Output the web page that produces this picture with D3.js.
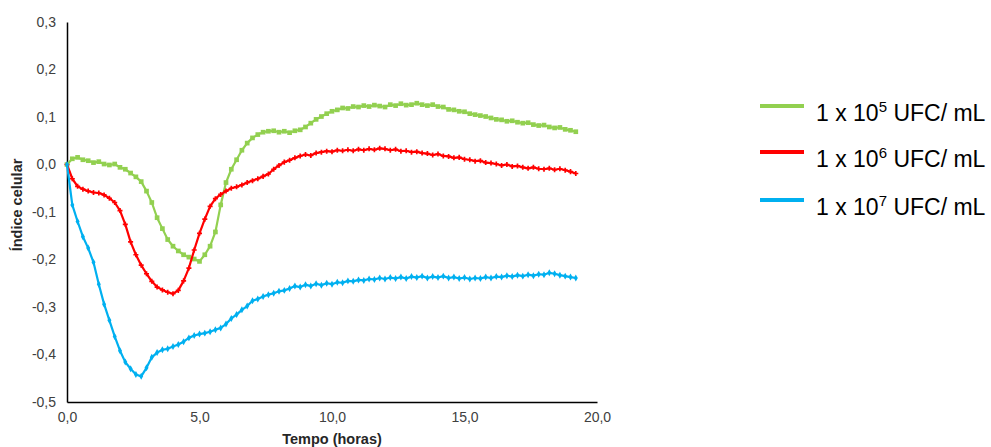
<html>
<head>
<meta http-equiv="Content-Type" content="text/html; charset=utf-8">
<title>Índice celular</title>
<script src="https://d3js.org/d3.v7.min.js"></script>
<style>
body, html{
  margin: 0;
  padding: 0;
  background: white;
  overflow: hidden;
}
text{
  font-family: "Liberation Sans", Arial, sans-serif;
}
.axis path{
  stroke: black;
  stroke-width: 1.5;
  fill: none;
}
.axis line{
  display: none;
}
.axis text{
  fill: #404040;
  font-size: 14px;
}
</style>
</head>
<body>
<div id='chart'></div>
<script type="text/javascript">

// tempo (horas)
var hours = [0, 0.2, 0.4, 0.6, 0.8, 1.0, 1.2, 1.4, 1.6, 1.8,
  2.0, 2.2, 2.4, 2.6, 2.8, 3.0, 3.2, 3.4, 3.6, 3.8,
  4.0, 4.2, 4.4, 4.6, 4.8, 5.0, 5.2, 5.4, 5.6, 5.8,
  6.0, 6.2, 6.4, 6.6, 6.8, 7.0, 7.2, 7.4, 7.6, 7.8,
  8.0, 8.2, 8.4, 8.6, 8.8, 9.0, 9.2, 9.4, 9.6, 9.8,
  10.0, 10.2, 10.4, 10.6, 10.8, 11.0, 11.2, 11.4, 11.6, 11.8,
  12.0, 12.2, 12.4, 12.6, 12.8, 13.0, 13.2, 13.4, 13.6, 13.8,
  14.0, 14.2, 14.4, 14.6, 14.8, 15.0, 15.2, 15.4, 15.6, 15.8,
  16.0, 16.2, 16.4, 16.6, 16.8, 17.0, 17.2, 17.4, 17.6, 17.8,
  18.0, 18.2, 18.4, 18.6, 18.8, 19.0, 19.2]

// 1 x 10^5 UFC/ mL
var ufc5 = [0.000, 0.012, 0.015, 0.010, 0.008, 0.004, 0.006, 0.001, -0.001, 0.001,
  -0.006, -0.010, -0.018, -0.026, -0.036, -0.056, -0.080, -0.112, -0.135, -0.158,
  -0.172, -0.182, -0.190, -0.195, -0.199, -0.204, -0.190, -0.172, -0.142, -0.085,
  -0.038, -0.010, 0.010, 0.030, 0.045, 0.056, 0.063, 0.068, 0.070, 0.071,
  0.068, 0.070, 0.067, 0.071, 0.073, 0.079, 0.087, 0.095, 0.101, 0.107,
  0.112, 0.115, 0.119, 0.118, 0.122, 0.121, 0.124, 0.122, 0.125, 0.123,
  0.121, 0.126, 0.124, 0.128, 0.125, 0.126, 0.129, 0.126, 0.124, 0.126,
  0.122, 0.121, 0.116, 0.115, 0.112, 0.111, 0.107, 0.105, 0.103, 0.101,
  0.098, 0.095, 0.094, 0.091, 0.092, 0.089, 0.087, 0.088, 0.084, 0.082,
  0.083, 0.079, 0.077, 0.078, 0.074, 0.072, 0.069]

// 1 x 10^6 UFC/ mL
var ufc6 = [0.000, -0.030, -0.046, -0.052, -0.056, -0.059, -0.060, -0.064, -0.071, -0.080,
  -0.097, -0.126, -0.163, -0.190, -0.212, -0.230, -0.246, -0.258, -0.264, -0.269,
  -0.272, -0.265, -0.245, -0.218, -0.180, -0.145, -0.115, -0.088, -0.072, -0.063,
  -0.056, -0.050, -0.047, -0.043, -0.038, -0.034, -0.030, -0.025, -0.020, -0.010,
  -0.002, 0.005, 0.009, 0.014, 0.018, 0.021, 0.019, 0.024, 0.026, 0.028,
  0.027, 0.030, 0.029, 0.031, 0.029, 0.032, 0.030, 0.033, 0.031, 0.034,
  0.033, 0.030, 0.032, 0.028, 0.029, 0.026, 0.027, 0.024, 0.023, 0.020,
  0.022, 0.018, 0.017, 0.014, 0.015, 0.011, 0.010, 0.007, 0.008, 0.004,
  0.003, 0.001, -0.002, 0.000, -0.004, -0.003, -0.006, -0.008, -0.006, -0.009,
  -0.010, -0.008, -0.011, -0.009, -0.012, -0.015, -0.019]

// 1 x 10^7 UFC/ mL
var ufc7 = [0.000, -0.085, -0.120, -0.152, -0.176, -0.206, -0.252, -0.294, -0.328, -0.362,
  -0.392, -0.416, -0.430, -0.442, -0.446, -0.428, -0.406, -0.396, -0.390, -0.388,
  -0.383, -0.379, -0.373, -0.365, -0.360, -0.357, -0.355, -0.352, -0.348, -0.344,
  -0.336, -0.324, -0.316, -0.306, -0.298, -0.287, -0.283, -0.278, -0.274, -0.271,
  -0.267, -0.265, -0.261, -0.256, -0.258, -0.253, -0.256, -0.251, -0.254, -0.250,
  -0.252, -0.248, -0.249, -0.245, -0.246, -0.243, -0.244, -0.241, -0.242, -0.239,
  -0.241, -0.238, -0.240, -0.237, -0.240, -0.236, -0.238, -0.235, -0.239, -0.236,
  -0.238, -0.235, -0.239, -0.237, -0.240, -0.238, -0.241, -0.239, -0.240, -0.237,
  -0.239, -0.236, -0.237, -0.234, -0.236, -0.233, -0.235, -0.232, -0.234, -0.231,
  -0.232, -0.228, -0.230, -0.233, -0.235, -0.237, -0.239]

var seriesNames = ["1 x 10|5| UFC/ mL", "1 x 10|6| UFC/ mL", "1 x 10|7| UFC/ mL"]
var seriesColors = ["#92D050", "#FF0000", "#00B0F0"]
var xTicks = [0, 5, 10, 15, 20]
var yTicks = [-0.5, -0.4, -0.3, -0.2, -0.1, 0, 0.1, 0.2, 0.3]

var series = [
  {name: seriesNames[0], color: seriesColors[0], values: ufc5, symbol: d3.symbolSquare, size: 22},
  {name: seriesNames[1], color: seriesColors[1], values: ufc6, symbol: d3.symbolCross, size: 14},
  {name: seriesNames[2], color: seriesColors[2], values: ufc7, symbol: d3.symbolDiamond, size: 14}
]

var W = 991, H = 447

var svg = d3.select("#chart").append("svg")
  .attr("width", W)
  .attr("height", H)

var x = d3.scaleLinear().domain([0, 20]).range([67, 597])
var y = d3.scaleLinear().domain([-0.5, 0.3]).range([402, 22])

var fmt = function(d){ return d3.format(".1f")(d).replace(".", ",").replace("−", "-") }

svg.append("g")
  .attr("class", "axis axis--x")
  .attr("transform", "translate(0," + y(-0.5) + ")")
  .call(d3.axisBottom(x).tickValues(xTicks).tickSize(0).tickSizeOuter(0).tickPadding(10).tickFormat(fmt))

svg.append("g")
  .attr("class", "axis axis--y")
  .attr("transform", "translate(" + x(0) + ",0)")
  .call(d3.axisLeft(y).tickValues(yTicks).tickSize(0).tickSizeOuter(0).tickPadding(11).tickFormat(fmt))

svg.append("text")
  .attr("x", x(10))
  .attr("y", 444)
  .attr("text-anchor", "middle")
  .style("font-size", "14.5px")
  .style("font-weight", "bold")
  .style("fill", "#262626")
  .text("Tempo (horas)")

svg.append("text")
  .attr("transform", "translate(22,205) rotate(-90)")
  .attr("text-anchor", "middle")
  .style("font-size", "14.5px")
  .style("font-weight", "bold")
  .style("fill", "#262626")
  .text("Índice celular")

var line = d3.line()
  .x(function(d, i){ return x(hours[i]) })
  .y(function(d){ return y(d) })

series.forEach(function(s){
  svg.append("path")
    .attr("d", line(s.values))
    .style("fill", "none")
    .style("stroke", s.color)
    .style("stroke-width", 2.2)
    .style("stroke-linejoin", "round")

  svg.append("g").selectAll("path")
    .data(s.values)
    .enter().append("path")
      .attr("transform", function(d, i){ return "translate(" + x(hours[i]) + "," + y(d) + ")" })
      .attr("d", d3.symbol().type(s.symbol).size(s.size))
      .style("fill", s.color)
})

// legend
var legendY = [106, 152, 200]
var legend = svg.append("g")
series.forEach(function(s, i){
  legend.append("line")
    .attr("x1", 760).attr("x2", 804)
    .attr("y1", legendY[i]).attr("y2", legendY[i])
    .style("stroke", s.color)
    .style("stroke-width", 4)
  var parts = s.name.split("|")
  var t = legend.append("text")
    .attr("x", 816)
    .attr("y", legendY[i] + 15)
    .style("font-size", "23px")
    .style("fill", "#000")
  t.append("tspan").text(parts[0])
  t.append("tspan").attr("dy", -9).style("font-size", "15px").text(parts[1])
  t.append("tspan").attr("dy", 9).text(parts[2])
})

</script>
</body>
</html>
